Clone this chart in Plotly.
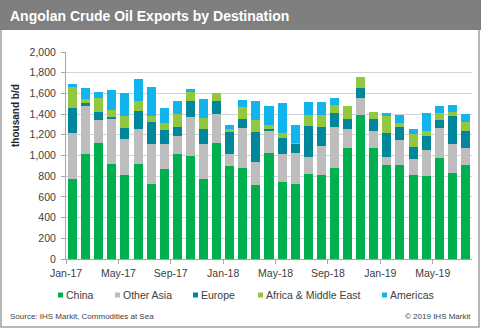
import plotly.graph_objects as go

months = ["Jan-17", "Feb-17", "Mar-17", "Apr-17", "May-17", "Jun-17", "Jul-17", "Aug-17",
          "Sep-17", "Oct-17", "Nov-17", "Dec-17", "Jan-18", "Feb-18", "Mar-18", "Apr-18",
          "May-18", "Jun-18", "Jul-18", "Aug-18", "Sep-18", "Oct-18", "Nov-18", "Dec-18",
          "Jan-19", "Feb-19", "Mar-19", "Apr-19", "May-19", "Jun-19", "Jul-19"]

china = [770, 1010, 1125, 920, 810, 920, 720, 870, 1015, 995, 775, 1125,
         895, 875, 715, 1020, 740, 725, 825, 810, 875, 1070, 1390, 1075,
         910, 905, 815, 805, 975, 835, 910]
other_asia = [450, 470, 215, 440, 345, 340, 390, 245, 170, 375, 340, 280,
              115, 390, 225, 225, 275, 295, 160, 285, 405, 185, 170, 165,
              80, 240, 150, 245, 295, 280, 165]
europe = [240, 30, 80, 15, 110, 170, 215, 130, 90, 160, 145, 125,
          215, 90, 290, 10, 150, 100, 300, 185, 130, 95, 90, 110,
          225, 130, 115, 135, 75, 265, 160]
africa_me = [205, 40, 135, 65, 120, 100, 55, 65, 125, 80, 100, 70,
             35, 110, 115, 40, 55, 5, 105, 115, 80, 130, 110, 70,
             170, 35, 130, 50, 65, 40, 85]
americas = [30, 100, 60, 190, 215, 205, 285, 145, 125, 35, 190, 0,
            35, 70, 180, 185, 290, 170, 130, 125, 70, 0, 0, 0,
            25, 80, 45, 180, 65, 70, 80]

series_names = ["China", "Other Asia", "Europe", "Africa & Middle East", "Americas"]
series_values = [china, other_asia, europe, africa_me, americas]
colors = ["#00b04f", "#bdbdbd", "#00879b", "#92c83e", "#12b4ec"]

tick_labels = ["Jan-17", "May-17", "Sep-17", "Jan-18", "May-18", "Sep-18", "Jan-19", "May-19"]

W, H = 481, 329
L, R, T, B = 66, 472, 52, 259
FONT = "Liberation Sans, Arial, sans-serif"


def px(x):
    return (x - L) / (R - L)


def py(y):
    return (B - y) / (B - T)


x_idx = list(range(len(months)))
fig = go.Figure()
for name, vals, col in zip(series_names, series_values, colors):
    fig.add_trace(go.Bar(x=x_idx, y=vals, name=name, marker_color=col,
                         marker_line_width=0, showlegend=False))

tickvals = [months.index(t) - 0.5 for t in tick_labels]

fig.update_layout(
    width=W, height=H,
    margin=dict(l=L, r=W - R, t=T, b=H - B),
    barmode="stack", bargap=0.31,
    plot_bgcolor="white", paper_bgcolor="white",
    font=dict(family=FONT, size=10.5, color="#404040"),
    xaxis=dict(range=[-0.5, len(months) - 0.5], tickvals=tickvals, ticktext=tick_labels,
               ticks="outside", ticklen=4, tickcolor="#a6a6a6",
               showline=True, linecolor="#a6a6a6", linewidth=1,
               showgrid=False, zeroline=False, tickfont=dict(size=10.5, color="#404040")),
    yaxis=dict(range=[0, 2000], dtick=200, tickformat=",",
               ticks="outside", ticklen=4, tickcolor="#a6a6a6",
               showline=True, linecolor="#a6a6a6", linewidth=1,
               showgrid=True, gridcolor="#d4d4d4", gridwidth=1, zeroline=False,
               ticklabelstandoff=3, tickfont=dict(size=10.5, color="#404040")),
)

shapes = []
# outer frame
shapes.append(dict(type="rect", xref="paper", yref="paper",
                   x0=px(1), x1=px(479), y0=py(327), y1=py(28),
                   line=dict(color="#a0a0a0", width=1.5), fillcolor="rgba(0,0,0,0)", layer="below"))
# title bar
shapes.append(dict(type="rect", xref="paper", yref="paper",
                   x0=px(0), x1=px(W), y0=py(30), y1=py(0),
                   line=dict(width=0), fillcolor="#7f7f7f", layer="above"))

annotations = [
    dict(text="<b>Angolan Crude Oil Exports by Destination</b>", xref="paper", yref="paper",
         x=px(8), y=py(16), xanchor="left", yanchor="middle", showarrow=False,
         font=dict(family=FONT, size=14, color="white")),
    dict(text="<b>thousand b/d</b>", xref="paper", yref="paper", textangle=-90,
         x=px(15), y=py(115), xanchor="center", yanchor="middle", showarrow=False,
         font=dict(family=FONT, size=10, color="#262626")),
    dict(text="Source: IHS Markit, Commodities at Sea", xref="paper", yref="paper",
         x=px(8), y=py(316), xanchor="left", yanchor="middle", showarrow=False,
         font=dict(family=FONT, size=8, color="#404040")),
    dict(text="© 2019 IHS Markit", xref="paper", yref="paper",
         x=px(473), y=py(316), xanchor="right", yanchor="middle", showarrow=False,
         font=dict(family=FONT, size=8, color="#404040")),
]

legend_sq_x = [58, 115, 193, 258, 382]
for sx, name, col in zip(legend_sq_x, series_names, colors):
    shapes.append(dict(type="rect", xref="paper", yref="paper",
                       x0=px(sx), x1=px(sx + 5), y0=py(297.5), y1=py(292.5),
                       line=dict(width=0), fillcolor=col))
    annotations.append(dict(text=name, xref="paper", yref="paper",
                            x=px(sx + 6), y=py(295), xanchor="left", yanchor="middle",
                            showarrow=False,
                            font=dict(family=FONT, size=10.5, color="#404040")))

fig.update_layout(shapes=shapes, annotations=annotations)
fig.write_html("out.html")
